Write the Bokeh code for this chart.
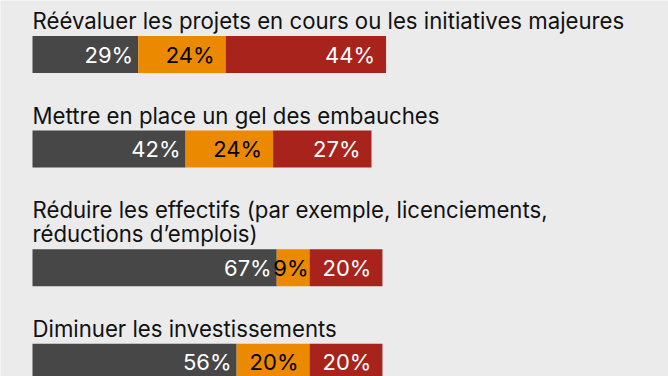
from bokeh.plotting import figure
from bokeh.models import Range1d, ColumnDataSource
from bokeh.embed import file_html
from bokeh.resources import INLINE
from bokeh.core.properties import value

# ---- data ----
questions = [
    "Réévaluer les projets en cours ou les initiatives majeures",
    "Mettre en place un gel des embauches",
    "Réduire les effectifs (par exemple, licenciements,\nréductions d’emplois)",
    "Diminuer les investissements",
]
dark_vals = [29, 42, 67, 56]
orange_vals = [24, 24, 9, 20]
red_vals = [44, 27, 20, 20]

# ---- style ----
series = [dark_vals, orange_vals, red_vals]
colors = ["#474747", "#eb8a00", "#a8231b"]
label_colors = ["#ffffff", "#000000", "#ffffff"]
label_pads = [5, 11, 11]
BG = "#ebebeb"
FONT = value("Inter")

W, H = 668, 376
PX_PER_PCT = 3.645
LEFT = 32

p = figure(width=W, height=H, output_backend="svg", toolbar_location=None,
           x_range=Range1d(-LEFT / PX_PER_PCT, (W - LEFT) / PX_PER_PCT),
           y_range=Range1d(H, 0),
           min_border=0, x_axis_location=None, y_axis_location=None,
           background_fill_color=BG, border_fill_color=BG,
           outline_line_color=None)
p.grid.visible = False

# layout (in pixel-like y units)
baseline = 20.0
LINE_H = 24.3
GAP = 15.5
BAR_H = 37
AFTER = 42

title_x, title_y, title_t = [], [], []
bar_y = []
for q in questions:
    lines = q.split("\n")
    for j, line in enumerate(lines):
        title_x.append(0)
        title_y.append(baseline + j * LINE_H)
        title_t.append(line)
    last = baseline + (len(lines) - 1) * LINE_H
    top = last + GAP
    bar_y.append(top + BAR_H / 2)
    baseline = top + BAR_H + AFTER

p.text(x=title_x, y=title_y, text=title_t, text_font=FONT,
       text_font_size="22.2px", text_color="#111111",
       text_align="left", text_baseline="alphabetic")

lefts = [0] * len(questions)
for vals, col, lcol, pad in zip(series, colors, label_colors, label_pads):
    rights = [l + v for l, v in zip(lefts, vals)]
    src = ColumnDataSource(dict(y=bar_y, left=lefts, right=rights,
                                lab=[f"{v}%" for v in vals],
                                off=[-(pad if v >= 12 else 1) for v in vals]))
    p.hbar(y="y", left="left", right="right", height=BAR_H, source=src,
           fill_color=col, line_color=None)
    p.text(x="right", y="y", text="lab", x_offset="off", source=src,
           text_font=FONT, text_font_size="22px", text_color=lcol,
           text_align="right", text_baseline="middle")
    lefts = rights

open("out.html", "w").write(file_html(p, INLINE))
